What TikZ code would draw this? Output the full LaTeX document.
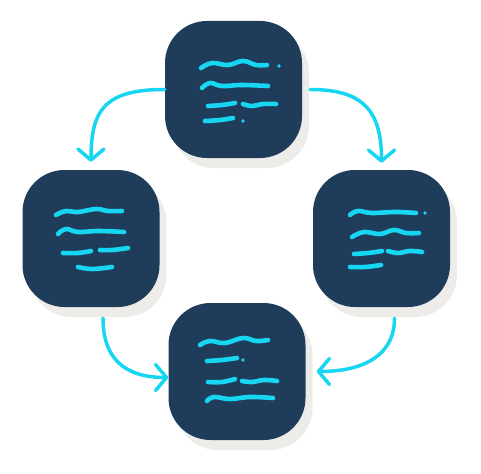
\documentclass[tikz,border=0pt]{standalone}
\usepackage{tikz}
\usetikzlibrary{arrows.meta,shadows,calc}
\definecolor{cardNavy}{RGB}{31,61,90}
\definecolor{inkCyan}{RGB}{22,214,242}
\definecolor{shadowGray}{RGB}{238,236,232}

\begin{document}
\begin{tikzpicture}[x=1pt,y=-1pt,
    card/.style={fill=cardNavy, minimum size=137pt, inner sep=0pt,
        rounded corners=42pt,
        drop shadow={shadow xshift=7pt, shadow yshift=-10pt, fill=shadowGray, opacity=1}},
    scribble/.style={draw=inkCyan, line width=4.6pt, line cap=round, line join=round},
    flow/.style={draw=inkCyan, line width=3.5pt, line cap=round,
        -{Straight Barb[length=11pt,width=26pt,line width=3.5pt,round]}}]

    \useasboundingbox (0,0) rectangle (481,473);

    % cards
    \node[card] (top) at (233.5,89.5) {};
    \node[card] (left) at (91,238.5) {};
    \node[card] (right) at (381.5,238.5) {};
    \node[card] (bottom) at (237,371.5) {};

    % scribbles top
    \draw[scribble] plot[smooth,tension=0.7] coordinates {(201,68) (212,63) (228,65) (243,61) (256,65) (267,65)};
    \fill[inkCyan] (279,66) circle (1.8);
    \draw[scribble] plot[smooth,tension=0.7] coordinates {(202,88) (210,83) (222,86) (242,85) (268,86)};
    \draw[scribble] plot[smooth,tension=0.7] coordinates {(208,106) (222,105) (235,103)};
    \draw[scribble] plot[smooth,tension=0.7] coordinates {(243,104) (252,106) (263,104) (276,104)};
    \draw[scribble] plot[smooth,tension=0.7] coordinates {(205,121) (220,120) (233,118)};
    \fill[inkCyan] (243,121) circle (1.8);

    % scribbles left
    \draw[scribble] plot[smooth,tension=0.7] coordinates {(56,215) (66,211) (78,212) (96,209) (108,211) (122,211)};
    \draw[scribble] plot[smooth,tension=0.7] coordinates {(58,234) (66,229) (78,232) (98,231) (124,232)};
    \draw[scribble] plot[smooth,tension=0.7] coordinates {(63,253) (78,253) (91,251)};
    \draw[scribble] plot[smooth,tension=0.7] coordinates {(100,250) (112,250) (128,248)};
    \draw[scribble] plot[smooth,tension=0.7] coordinates {(78,267) (92,269) (112,267)};

    % scribbles right
    \draw[scribble] plot[smooth,tension=0.7] coordinates {(350,215) (358,211) (372,213) (395,212) (416,213)};
    \fill[inkCyan] (425,213) circle (1.8);
    \draw[scribble] plot[smooth,tension=0.7] coordinates {(352,237) (364,232) (380,234) (394,230) (406,233) (419,233)};
    \draw[scribble] plot[smooth,tension=0.7] coordinates {(354,254) (368,253) (382,251)};
    \draw[scribble] plot[smooth,tension=0.7] coordinates {(388,251) (398,253) (410,251) (422,252)};
    \draw[scribble] plot[smooth,tension=0.7] coordinates {(350,267) (365,267) (381,265)};

    % scribbles bottom
    \draw[scribble] plot[smooth,tension=0.7] coordinates {(200,345) (210,341) (225,343) (243,338) (256,341) (268,340)};
    \draw[scribble] plot[smooth,tension=0.7] coordinates {(207,361) (222,360) (237,358)};
    \fill[inkCyan] (243,360) circle (1.8);
    \draw[scribble] plot[smooth,tension=0.7] coordinates {(208,382) (222,382) (235,379)};
    \draw[scribble] plot[smooth,tension=0.7] coordinates {(242,381) (252,382) (264,380) (277,381)};
    \draw[scribble] plot[smooth,tension=0.7] coordinates {(207,401) (214,397) (230,399) (250,397) (273,398)};

    % arrows
    \draw[flow, shorten >=8pt] (top.west) .. controls +(-60,0) and +(0,-60) .. (left.north);
    \draw[flow, shorten <=8pt, shorten >=7pt] (top.east) .. controls +(60,0) and +(0,-60) .. (right.north);
    \draw[flow, shorten <=11pt] ([xshift=12pt]left.south) .. controls +(0,50) and +(-45,0) .. ([yshift=-6pt]bottom.west);
    \draw[flow, shorten <=11pt, shorten >=11pt] ([xshift=13pt]right.south) .. controls +(0,50) and +(55,0) .. (bottom.east);

\end{tikzpicture}
\end{document}
